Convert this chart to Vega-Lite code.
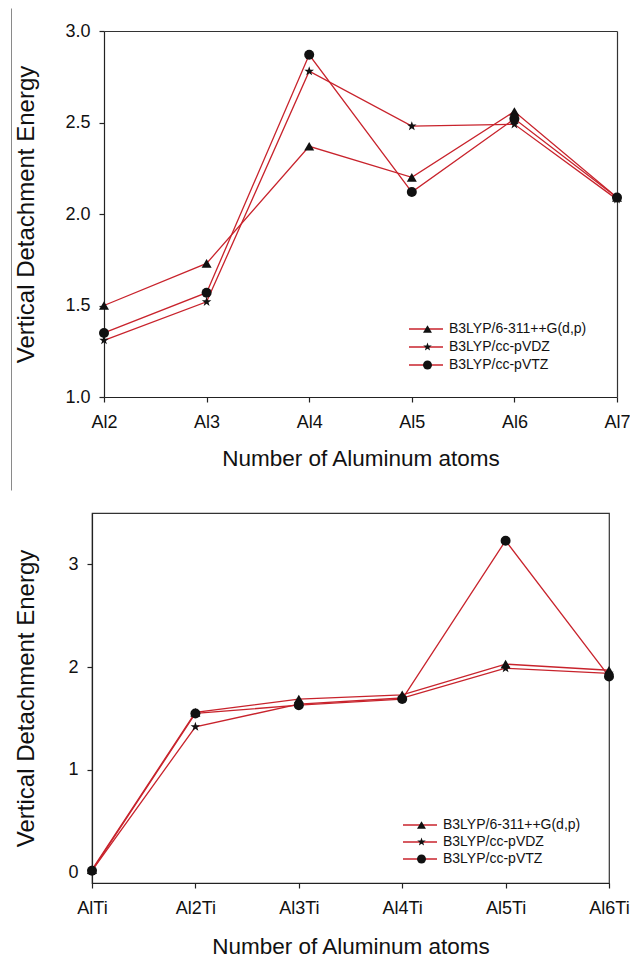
{
  "$schema": "https://vega.github.io/schema/vega-lite/v6.json",
  "background": "white",
  "padding": {"left": 11, "top": 22, "right": 5, "bottom": 5},
  "columns": 1,
  "spacing": -1,
  "resolve": {"scale": {"color": "independent", "shape": "independent"}},
  "config": {
    "font": "Liberation Sans",
    "view": {"stroke": "#333", "strokeWidth": 1.2},
    "axis": {
      "grid": false,
      "domainColor": "#222",
      "domainWidth": 1.2,
      "tickColor": "#222",
      "tickWidth": 1.2,
      "tickSize": 5,
      "labelColor": "#111",
      "titleColor": "#111",
      "labelFont": "Liberation Sans",
      "titleFont": "Liberation Sans",
      "titleFontWeight": "normal",
      "labelFontSize": 18
    },
    "legend": {"labelFont": "Liberation Sans", "labelColor": "#111"}
  },
  "datasets": {
    "al": [
      {"cluster": "Al2", "method": "B3LYP/6-311++G(d,p)", "vde": 1.50},
      {"cluster": "Al3", "method": "B3LYP/6-311++G(d,p)", "vde": 1.73},
      {"cluster": "Al4", "method": "B3LYP/6-311++G(d,p)", "vde": 2.37},
      {"cluster": "Al5", "method": "B3LYP/6-311++G(d,p)", "vde": 2.20},
      {"cluster": "Al6", "method": "B3LYP/6-311++G(d,p)", "vde": 2.56},
      {"cluster": "Al7", "method": "B3LYP/6-311++G(d,p)", "vde": 2.09},
      {"cluster": "Al2", "method": "B3LYP/cc-pVDZ", "vde": 1.31},
      {"cluster": "Al3", "method": "B3LYP/cc-pVDZ", "vde": 1.52},
      {"cluster": "Al4", "method": "B3LYP/cc-pVDZ", "vde": 2.78},
      {"cluster": "Al5", "method": "B3LYP/cc-pVDZ", "vde": 2.48},
      {"cluster": "Al6", "method": "B3LYP/cc-pVDZ", "vde": 2.49},
      {"cluster": "Al7", "method": "B3LYP/cc-pVDZ", "vde": 2.08},
      {"cluster": "Al2", "method": "B3LYP/cc-pVTZ", "vde": 1.35},
      {"cluster": "Al3", "method": "B3LYP/cc-pVTZ", "vde": 1.57},
      {"cluster": "Al4", "method": "B3LYP/cc-pVTZ", "vde": 2.87},
      {"cluster": "Al5", "method": "B3LYP/cc-pVTZ", "vde": 2.12},
      {"cluster": "Al6", "method": "B3LYP/cc-pVTZ", "vde": 2.52},
      {"cluster": "Al7", "method": "B3LYP/cc-pVTZ", "vde": 2.09}
    ],
    "alti": [
      {"cluster": "AlTi", "method": "B3LYP/6-311++G(d,p)", "vde": 0.03},
      {"cluster": "Al2Ti", "method": "B3LYP/6-311++G(d,p)", "vde": 1.56},
      {"cluster": "Al3Ti", "method": "B3LYP/6-311++G(d,p)", "vde": 1.69},
      {"cluster": "Al4Ti", "method": "B3LYP/6-311++G(d,p)", "vde": 1.73},
      {"cluster": "Al5Ti", "method": "B3LYP/6-311++G(d,p)", "vde": 2.03},
      {"cluster": "Al6Ti", "method": "B3LYP/6-311++G(d,p)", "vde": 1.97},
      {"cluster": "AlTi", "method": "B3LYP/cc-pVDZ", "vde": 0.02},
      {"cluster": "Al2Ti", "method": "B3LYP/cc-pVDZ", "vde": 1.42},
      {"cluster": "Al3Ti", "method": "B3LYP/cc-pVDZ", "vde": 1.64},
      {"cluster": "Al4Ti", "method": "B3LYP/cc-pVDZ", "vde": 1.70},
      {"cluster": "Al5Ti", "method": "B3LYP/cc-pVDZ", "vde": 1.99},
      {"cluster": "Al6Ti", "method": "B3LYP/cc-pVDZ", "vde": 1.94},
      {"cluster": "AlTi", "method": "B3LYP/cc-pVTZ", "vde": 0.02},
      {"cluster": "Al2Ti", "method": "B3LYP/cc-pVTZ", "vde": 1.55},
      {"cluster": "Al3Ti", "method": "B3LYP/cc-pVTZ", "vde": 1.63},
      {"cluster": "Al4Ti", "method": "B3LYP/cc-pVTZ", "vde": 1.69},
      {"cluster": "Al5Ti", "method": "B3LYP/cc-pVTZ", "vde": 3.23},
      {"cluster": "Al6Ti", "method": "B3LYP/cc-pVTZ", "vde": 1.91}
    ]
  },
  "concat": [
    {
      "width": 525,
      "height": 366,
      "view": {"stroke": null},
      "data": {"name": "al"},
      "resolve": {"axis": {"x": "independent", "y": "independent"}, "scale": {"y": "independent"}},
      "layer": [
        {
          "mark": {"type": "line", "strokeWidth": 1.3},
          "encoding": {
            "x": {
              "field": "cluster", "type": "ordinal", "sort": null,
              "scale": {"type": "point", "padding": 0, "range": [12, 525]},
              "axis": {"orient": "bottom", "title": "Number of Aluminum atoms", "labelAngle": 0, "labelPadding": 11, "titlePadding": 16, "titleFontSize": 22.5}
            },
            "y": {
              "field": "vde", "type": "quantitative",
              "scale": {"domain": [1, 3], "nice": false, "zero": false},
              "axis": {"orient": "left", "offset": -12, "title": "Vertical Detachment Energy", "values": [1, 1.5, 2, 2.5, 3], "format": ".1f", "labelPadding": 9, "titleFontSize": 24, "titleX": -66}
            },
            "color": {
              "field": "method", "type": "nominal",
              "scale": {"domain": ["B3LYP/6-311++G(d,p)", "B3LYP/cc-pVDZ", "B3LYP/cc-pVTZ"], "range": ["#c8232c", "#c8232c", "#c8232c"]},
              "legend": {"title": null, "orient": "none", "legendX": 316, "legendY": 289, "symbolType": "stroke", "symbolSize": 1156, "symbolStrokeWidth": 1.3, "clipHeight": 18, "rowPadding": 0, "labelFontSize": 14, "labelOffset": 5, "padding": 0}
            }
          }
        },
        {
          "mark": {"type": "point", "filled": true, "color": "#111", "opacity": 1, "size": 100},
          "encoding": {
            "x": {"field": "cluster", "type": "ordinal", "sort": null, "axis": null},
            "y": {"field": "vde", "type": "quantitative", "scale": {"domain": [1, 3], "nice": false, "zero": false}, "axis": null},
            "shape": {
              "field": "method", "type": "nominal",
              "scale": {"range": ["triangle-up", "M0,-1L0.235,-0.324L0.951,-0.309L0.38,0.124L0.588,0.809L0,0.4L-0.588,0.809L-0.38,0.124L-0.951,-0.309L-0.235,-0.324Z", "circle"]},
              "legend": {"title": null, "orient": "none", "legendX": 328.5, "legendY": 289, "symbolSize": 80, "symbolFillColor": "#111", "symbolStrokeColor": "#111", "symbolStrokeWidth": 0, "clipHeight": 18, "rowPadding": 0, "labelExpr": "''", "labelFontSize": 14, "padding": 0}
            }
          }
        },
        {
          "mark": {"type": "point", "opacity": 0},
          "encoding": {
            "x": {"field": "cluster", "type": "ordinal", "sort": null, "axis": {"orient": "top", "labels": false, "ticks": false, "title": null, "domain": true, "domainColor": "#333"}},
            "y": {"field": "vde", "type": "quantitative", "scale": {"domain": [1, 3], "nice": false, "zero": false}, "axis": {"orient": "right", "labels": false, "ticks": false, "title": null, "domain": true, "domainColor": "#333"}}
          }
        },
        {
          "mark": {"type": "point", "opacity": 0},
          "encoding": {
            "x": {"field": "cluster", "type": "ordinal", "sort": null, "axis": null},
            "y": {"field": "vde", "type": "quantitative", "scale": {"domain": [1, 3], "nice": false, "zero": false, "range": [459, -23]}, "axis": {"orient": "left", "offset": 81, "labels": false, "ticks": false, "title": null, "domain": true, "domainColor": "#8a8a8a", "domainWidth": 1}}
          }
        }
      ]
    },
    {
      "width": 517,
      "height": 370,
      "data": {"name": "alti"},
      "encoding": {
        "x": {
          "field": "cluster", "type": "ordinal", "sort": null,
          "scale": {"type": "point", "padding": 0},
          "axis": {"title": "Number of Aluminum atoms", "labelAngle": 0, "labelPadding": 11, "titlePadding": 18, "titleFontSize": 22.5}
        },
        "y": {
          "field": "vde", "type": "quantitative",
          "scale": {"domain": [-0.1, 3.5], "nice": false, "zero": false},
          "axis": {"title": "Vertical Detachment Energy", "values": [0, 1, 2, 3], "format": "d", "labelPadding": 9, "titleFontSize": 24, "titleX": -54}
        }
      },
      "layer": [
        {
          "mark": {"type": "line", "strokeWidth": 1.3},
          "encoding": {
            "color": {
              "field": "method", "type": "nominal",
              "scale": {"domain": ["B3LYP/6-311++G(d,p)", "B3LYP/cc-pVDZ", "B3LYP/cc-pVTZ"], "range": ["#c8232c", "#c8232c", "#c8232c"]},
              "legend": {"title": null, "orient": "none", "legendX": 310, "legendY": 303.5, "symbolType": "stroke", "symbolSize": 1156, "symbolStrokeWidth": 1.3, "clipHeight": 17, "rowPadding": 0, "labelFontSize": 14, "labelOffset": 5, "padding": 0}
            }
          }
        },
        {
          "mark": {"type": "point", "filled": true, "color": "#111", "opacity": 1, "size": 100},
          "encoding": {
            "shape": {
              "field": "method", "type": "nominal",
              "scale": {"range": ["triangle-up", "M0,-1L0.235,-0.324L0.951,-0.309L0.38,0.124L0.588,0.809L0,0.4L-0.588,0.809L-0.38,0.124L-0.951,-0.309L-0.235,-0.324Z", "circle"]},
              "legend": {"title": null, "orient": "none", "legendX": 322.5, "legendY": 303.5, "symbolSize": 80, "symbolFillColor": "#111", "symbolStrokeColor": "#111", "symbolStrokeWidth": 0, "clipHeight": 17, "rowPadding": 0, "labelExpr": "''", "labelFontSize": 14, "padding": 0}
            }
          }
        }
      ]
    }
  ]
}
